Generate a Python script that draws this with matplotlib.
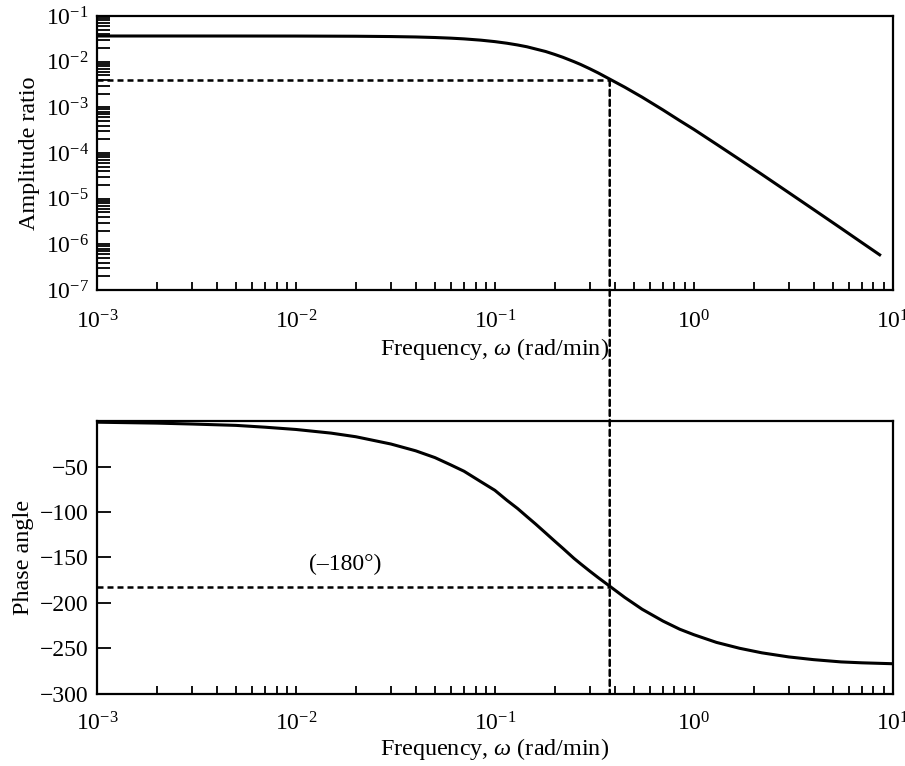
import matplotlib
matplotlib.use("Agg")
import matplotlib.pyplot as plt
from matplotlib.patches import ConnectionPatch
from matplotlib.ticker import LogLocator, NullFormatter
from matplotlib import rcParams

rcParams['font.family'] = ['Liberation Serif', 'DejaVu Serif']
rcParams['mathtext.fontset'] = 'custom'
rcParams['mathtext.rm'] = 'Liberation Serif'
rcParams['mathtext.it'] = 'Liberation Serif:italic'
rcParams['axes.unicode_minus'] = True

# 读图得到的数据
freq = [0.001, 0.002, 0.005, 0.01, 0.02, 0.03, 0.04, 0.05, 0.06, 0.07, 0.085,
        0.1, 0.115, 0.13, 0.145, 0.16, 0.18, 0.2, 0.22, 0.25, 0.27, 0.3, 0.33,
        0.38, 0.45, 0.55, 0.7, 0.85, 1.0, 1.3, 1.7, 2.2, 3.0, 4.0, 5.5, 7.0, 8.6]
amp = [0.0365, 0.0365, 0.03647, 0.03639, 0.03605, 0.0355, 0.03476, 0.03382,
       0.03275, 0.03156, 0.02959, 0.02749, 0.02535, 0.02323, 0.02119, 0.0190,
       0.0167, 0.0144, 0.01246, 0.0100, 0.00868, 0.0070, 0.0057, 0.0041,
       0.00276, 0.00167, 0.000878, 0.000512, 0.00033, 0.000156, 7.2e-5,
       3.4e-5, 1.36e-5, 5.8e-6, 2.25e-6, 1.09e-6, 5.9e-7]

freq_ph = [0.001, 0.002, 0.003, 0.005, 0.007, 0.01, 0.015, 0.02, 0.03, 0.04,
           0.05, 0.06, 0.07, 0.085, 0.1, 0.115, 0.13, 0.145, 0.16, 0.18, 0.2,
           0.22, 0.25, 0.27, 0.3, 0.33, 0.38, 0.45, 0.55, 0.7, 0.85, 1.0, 1.3,
           1.7, 2.2, 3.0, 4.0, 5.5, 7.0, 10.0]
phase = [-1, -2, -3, -4.5, -6.5, -9, -13, -17, -25, -32.5, -40, -48, -55,
         -66.5, -76, -87, -96, -105, -113, -123, -132, -140, -151, -157, -165,
         -172, -182, -194, -207, -220, -229, -235, -243.5, -250, -255, -259.5,
         -262.5, -265, -266, -267]

w_cross = 0.378
amp_cross = 0.0040
phase_cross = -182
phase_ticks = [-300, -250, -200, -150, -100, -50]

fig = plt.figure(figsize=(9.05, 7.66), dpi=100)
ax1 = fig.add_axes([0.1072, 0.6214, 0.8792, 0.3577])
ax2 = fig.add_axes([0.1072, 0.0944, 0.8792, 0.3556])

dash = (0, (2.4, 1.6))
xlab = r'Frequency, $\mathit{\omega}$ (rad/min)'
lab_fs = 17.4
tick_fs = 17

# 幅值比
ax1.plot(freq, amp, color='black', lw=2.2)
ax1.plot([1e-3, w_cross], [amp_cross, amp_cross], color='black', lw=1.8, linestyle=dash)
ax1.set_xscale('log')
ax1.set_yscale('log')
ax1.set_xlim(1e-3, 10)
ax1.set_ylim(1e-7, 1e-1)
ax1.yaxis.set_major_locator(LogLocator(base=10, numticks=12))
ax1.yaxis.set_minor_locator(LogLocator(base=10, subs=range(2, 10), numticks=12))
ax1.yaxis.set_minor_formatter(NullFormatter())
ax1.set_ylabel('Amplitude ratio', fontsize=lab_fs, labelpad=4)
ax1.set_xlabel(xlab, fontsize=lab_fs, labelpad=2)

# 相角
ax2.plot(freq_ph, phase, color='black', lw=2.2)
ax2.plot([1e-3, w_cross], [phase_cross, phase_cross], color='black', lw=1.8, linestyle=dash)
ax2.set_xscale('log')
ax2.set_xlim(1e-3, 10)
ax2.set_ylim(-300, 0)
ax2.set_yticks(phase_ticks)
ax2.set_ylabel('Phase angle', fontsize=lab_fs, labelpad=4)
ax2.set_xlabel(xlab, fontsize=lab_fs, labelpad=0)
ax2.text(0.0177, -158, '(\u2013180°)', fontsize=tick_fs, ha='center', va='center')

for ax in (ax1, ax2):
    for s in ax.spines.values():
        s.set_linewidth(1.6)
    ax.tick_params(which='both', direction='in', top=False, right=False,
                   labelsize=tick_fs, width=1.3, pad=6)
    ax.tick_params(axis='x', which='both', length=6)
    ax.xaxis.set_minor_formatter(NullFormatter())
ax1.tick_params(axis='x', which='major', pad=14.5)
ax2.tick_params(axis='x', which='major', pad=13.5)
ax1.tick_params(axis='y', which='both', length=9)
ax2.tick_params(axis='y', which='major', length=10)

con = ConnectionPatch(xyA=(w_cross, amp_cross), coordsA=ax1.transData,
                      xyB=(w_cross, -300), coordsB=ax2.transData,
                      color='black', lw=1.8, linestyle=dash)
fig.add_artist(con)

fig.savefig('out.png', dpi=100)
